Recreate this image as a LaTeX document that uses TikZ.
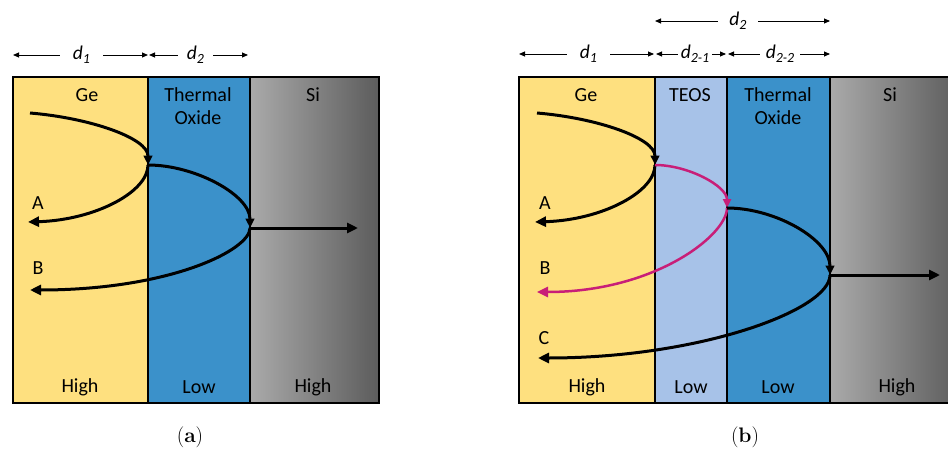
\documentclass[tikz,border=0pt]{standalone}
\usepackage{fontspec}
\newfontfamily\calfont{Carlito}
\usetikzlibrary{arrows.meta}
\definecolor{ge}{HTML}{FEE07F}
\definecolor{oxide}{HTML}{3B91CA}
\definecolor{teos}{HTML}{A7C2E8}
\definecolor{sil}{HTML}{AAAAAA}
\definecolor{sir}{HTML}{5C5C5C}
\definecolor{mag}{HTML}{C81E78}
\newcommand{\dl}[1]{\textit{d}\raisebox{-0.45ex}{\fontsize{14}{14}\selectfont\textit{#1}}}
\begin{document}
\begin{tikzpicture}[x=1pt,y=-1pt,
  lbl/.style={font=\calfont\fontsize{20}{22}\selectfont, inner sep=0pt},
  dimlbl/.style={font=\calfont\fontsize{19.5}{22}\selectfont, inner sep=0pt, minimum height=20pt},
  dimarrow/.style={line width=0.9pt, -{Triangle[length=6pt,width=5pt]}},
  ray/.style={line width=3pt, -{Triangle[length=11pt,width=10pt]}},
  rayv/.style={line width=3pt, -{Triangle[length=9.5pt,width=8.5pt]}},
  magray/.style={line width=2.5pt, mag, -{Triangle[length=9pt,width=8pt]}},
  outline/.style={line width=2.2pt},
  divider/.style={line width=1.8pt},
  captext/.style={font=\fontsize{21}{24}\selectfont, inner sep=0pt}]
\clip (0,0) rectangle (948,452);
\fill[white] (0,0) rectangle (948,452);

% ---------- panel (a) ----------
\fill[ge] (13,77) rectangle (148,403);
\fill[oxide] (148,77) rectangle (250,403);
\shade[left color=sil, right color=sir] (250,77) rectangle (379,403);
\draw[outline] (13,77) rectangle (379,403);
\draw[divider] (148,77) -- (148,403);
\draw[divider] (250,77) -- (250,403);

\node[lbl] (geA) at (87,95) {Ge};
\node[lbl] (thA) at (198,95) {Thermal};
\node[lbl] (oxA) at (198,118) {Oxide};
\node[lbl] (siA) at (313,95) {Si};
\node[lbl] (hiA1) at (80,387) {High};
\node[lbl] (loA) at (199,387) {Low};
\node[lbl] (hiA2) at (313,387) {High};
\node[lbl] (labAa) at (38,203) {A};
\node[lbl] (labBa) at (38,268) {B};

\coordinate (a1L) at (13,55);
\coordinate (a1R) at (148,55);
\coordinate (a2L) at (149,55);
\coordinate (a2R) at (248,55);
\node[dimlbl, minimum width=43pt] (da1) at (81.5,55) {\dl{1}};
\node[dimlbl, minimum width=35pt] (da2) at (195.5,55) {\dl{2}};
\draw[dimarrow] (da1) -- (a1L);
\draw[dimarrow] (da1) -- (a1R);
\draw[dimarrow] (da2) -- (a2L);
\draw[dimarrow] (da2) -- (a2R);

\coordinate (sA) at (30,113);
\coordinate (vA1) at (148,165);
\coordinate (eAa) at (28,222);
\coordinate (vA2) at (250,228);
\coordinate (eBa) at (30,290);
\coordinate (eSa) at (358,228);
\draw[rayv] (sA) .. controls (90,118) and (148,138) .. (vA1);
\draw[ray] (vA1) .. controls (148,192) and (95,220) .. (eAa);
\draw[rayv] (vA1) .. controls (195,165) and (250,195) .. (vA2);
\draw[ray] (vA2) .. controls (250,250) and (170,290) .. (eBa);
\draw[ray] (vA2) -- (eSa);

\node[captext] (capA) at (190,437) {(\textbf{a})};

% ---------- panel (b) ----------
\fill[ge] (519,77) rectangle (655,403);
\fill[teos] (655,77) rectangle (727,403);
\fill[oxide] (727,77) rectangle (830,403);
\shade[left color=sil, right color=sir] (830,77) rectangle (960,403);
\draw[outline] (519,77) rectangle (960,403);
\draw[divider] (655,77) -- (655,403);
\draw[divider] (727,77) -- (727,403);
\draw[divider] (830,77) -- (830,403);

\node[lbl] (geB) at (586,95) {Ge};
\node[lbl] (teB) at (690,95) {TEOS};
\node[lbl] (thB) at (778,95) {Thermal};
\node[lbl] (oxB) at (778,118) {Oxide};
\node[lbl] (siB) at (890,95) {Si};
\node[lbl] (hiB1) at (587,387) {High};
\node[lbl] (loB1) at (691,387) {Low};
\node[lbl] (loB2) at (778,387) {Low};
\node[lbl] (hiB2) at (897,387) {High};
\node[lbl] (labAb) at (545,203) {A};
\node[lbl] (labBb) at (545,268) {B};
\node[lbl] (labCb) at (544,338) {C};

\coordinate (b1L) at (519,54);
\coordinate (b1R) at (654,54);
\coordinate (b21L) at (656,54);
\coordinate (b21R) at (726,54);
\coordinate (b22L) at (728,54);
\coordinate (b22R) at (830,54);
\coordinate (b2L) at (655,21);
\coordinate (b2R) at (830,21);
\node[dimlbl, minimum width=43pt] (db1) at (588.5,54) {\dl{1}};
\node[dimlbl, minimum width=34pt] (db21) at (695,54) {\dl{2-1}};
\node[dimlbl, minimum width=40pt] (db22) at (780,54) {\dl{2-2}};
\node[dimlbl, minimum width=40pt] (db2) at (738,21) {\dl{2}};
\draw[dimarrow] (db1) -- (b1L);
\draw[dimarrow] (db1) -- (b1R);
\draw[dimarrow] (db21) -- (b21L);
\draw[dimarrow] (db21) -- (b21R);
\draw[dimarrow] (db22) -- (b22L);
\draw[dimarrow] (db22) -- (b22R);
\draw[dimarrow] (db2) -- (b2L);
\draw[dimarrow] (db2) -- (b2R);

\coordinate (sB) at (537,113);
\coordinate (vB1) at (655,165);
\coordinate (eAb) at (535,222);
\coordinate (vB2) at (727,208);
\coordinate (eBb) at (537,292);
\coordinate (vB3) at (830,275);
\coordinate (eCb) at (538,358);
\coordinate (eSb) at (940,275);
\draw[rayv] (sB) .. controls (597,118) and (655,138) .. (vB1);
\draw[ray] (vB1) .. controls (655,192) and (602,220) .. (eAb);
\draw[magray] (vB1) .. controls (688,165) and (727,186) .. (vB2);
\draw[magray, -{Triangle[length=11pt,width=10pt]}] (vB2) .. controls (727,235) and (655,292) .. (eBb);
\draw[rayv] (vB2) .. controls (776,208) and (830,240) .. (vB3);
\draw[ray] (vB3) .. controls (830,310) and (700,358) .. (eCb);
\draw[ray] (vB3) -- (eSb);

\node[captext] (capB) at (745,437) {(\textbf{b})};
\end{tikzpicture}
\end{document}
